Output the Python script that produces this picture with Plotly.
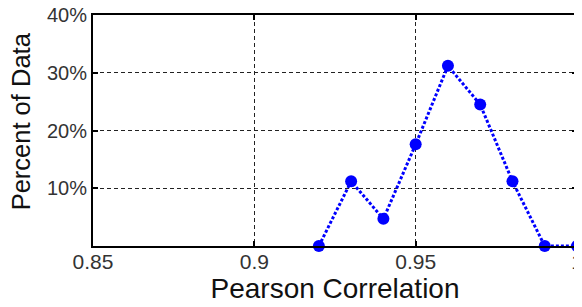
import plotly.graph_objects as go

correlation = [0.92, 0.93, 0.94, 0.95, 0.96, 0.97, 0.98, 0.99, 1.00]
percent = [0.0, 11.2, 4.7, 17.6, 31.2, 24.5, 11.2, 0.0, 0.0]
x_ticks = [0.85, 0.9, 0.95, 1.0]
x_tick_text = ["0.85", "0.9", "0.95", "1"]
y_ticks = [10, 20, 30, 40]
y_tick_text = ["10%", "20%", "30%", "40%"]
x_title = "Pearson Correlation"
y_title = "Percent of Data"

fig = go.Figure()
fig.add_trace(go.Scatter(
    x=correlation, y=percent, mode="lines+markers",
    line=dict(color="#0000FF", width=3, dash="3px,2px"),
    marker=dict(color="#0000FF", size=12),
    cliponaxis=False,
))

# page body has an 8px default margin; figure sized to fill the rest
fig.update_layout(
    width=574, height=299,
    margin=dict(l=85, r=5, t=7, b=61),
    paper_bgcolor="white", plot_bgcolor="white",
    font=dict(family="Arial, Liberation Sans, sans-serif", color="#333333"),
    showlegend=False,
)
fig.add_annotation(
    text=y_title, textangle=-90, xref="paper", yref="paper",
    x=-0.147, y=0.539, xanchor="center", yanchor="middle", showarrow=False,
    font=dict(size=25.5, color="#111111"), borderpad=0,
)
fig.update_xaxes(
    range=[0.85, 1.0], tickvals=x_ticks, ticktext=x_tick_text,
    showgrid=True, gridcolor="#222222", griddash="4px,3px", gridwidth=1.2,
    showline=True, linecolor="black", linewidth=2, mirror="allticks",
    ticks="inside", ticklen=5, tickwidth=2, tickcolor="black",
    tickfont=dict(size=21, color="#333333"), ticklabelstandoff=-4,
    ticklabeloverflow="allow",
    title=dict(text=x_title, font=dict(size=28, color="#111111"), standoff=0),
    zeroline=False, automargin=False,
)
fig.update_yaxes(
    range=[0, 40], tickvals=y_ticks, ticktext=y_tick_text,
    showgrid=True, gridcolor="#222222", griddash="4px,3px", gridwidth=1.2,
    showline=True, linecolor="black", linewidth=2, mirror="allticks",
    ticks="inside", ticklen=5, tickwidth=2, tickcolor="black",
    tickfont=dict(size=20, color="#333333"), ticklabeloverflow="allow",
    zeroline=False, automargin=False,
)

fig.write_html("out.html")
